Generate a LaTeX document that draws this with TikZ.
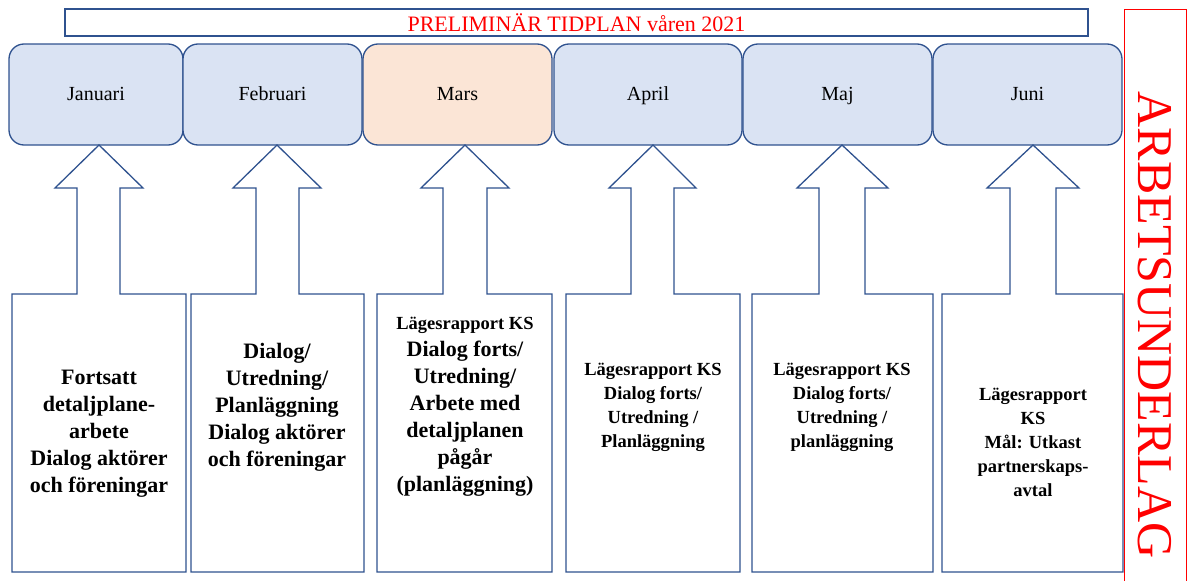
\documentclass[tikz,border=0pt]{standalone}
\usepackage{fontspec}
\setmainfont{Liberation Serif}
\definecolor{bord}{HTML}{2F528F}
\definecolor{mfill}{HTML}{DAE3F3}
\definecolor{pfill}{HTML}{FBE5D6}
\definecolor{myred}{HTML}{FF0000}
\tikzset{
  month/.style={draw=bord, line width=1.3pt, rounded corners=15pt, fill=mfill,
    minimum height=101pt, inner sep=0pt, font=\fontsize{20}{24}\selectfont,
    text height=14pt, text depth=2pt},
  callout/.style={draw=bord, line width=1.3pt, fill=white, line join=miter},
  bigtxt/.style={align=center, font=\bfseries\fontsize{22}{27}\selectfont},
  smalltxt/.style={align=center, font=\bfseries\fontsize{18.5}{24}\selectfont},
}
\newcommand\upcallout[7]{%
  \draw[callout] (#1,572) -- (#1,294) -- (#3,294) -- (#3,188) -- (#5,188) -- (#7,145)
    -- (#6,188) -- (#4,188) -- (#4,294) -- (#2,294) -- (#2,572) -- cycle;}
\begin{document}
\begin{tikzpicture}[x=1pt,y=-1pt]
\useasboundingbox (0,0) rectangle (1187,581);
% title
\node[draw=bord, line width=1.3pt, minimum width=1023pt, minimum height=27pt, inner sep=0pt,
  text=myred, font=\fontsize{22}{24}\selectfont] (title) at (576.5,22.5) {PRELIMINÄR TIDPLAN våren 2021};
% side box
\draw[myred, line width=0.8pt] (1124,9) rectangle (1186,590);
\node[rotate=-90, text=myred, font=\fontsize{50}{52}\selectfont, inner sep=0pt] (side) at (1155,325) {ARBETSUNDERLAG};
% months
\node[month, minimum width=174pt] (jan) at (96,94.5) {Januari};
\node[month, minimum width=179pt] (feb) at (272.5,94.5) {Februari};
\node[month, minimum width=189pt, fill=pfill] (mar) at (457.5,94.5) {Mars};
\node[month, minimum width=188pt] (apr) at (648,94.5) {April};
\node[month, minimum width=189pt] (maj) at (837.5,94.5) {Maj};
\node[month, minimum width=189pt] (jun) at (1027.5,94.5) {Juni};
% callouts
\upcallout{12}{186}{77}{120}{55}{143}{99}
\upcallout{191}{364}{256}{299}{233}{321}{277}
\upcallout{377}{552}{443}{487}{421}{509}{465}
\upcallout{566}{740}{631}{674}{609}{696}{653}
\upcallout{752}{933}{819}{865}{797}{888}{842}
\upcallout{942}{1123}{1010}{1056}{987}{1079}{1033}
% texts
\node[bigtxt] (tjan) at (99,434) {Fortsatt\\detaljplane-\\arbete\\Dialog aktörer\\och föreningar};
\node[bigtxt] (tfeb) at (277,407) {Dialog/\\Utredning/\\Planläggning\\Dialog aktörer\\och föreningar};
\node[bigtxt] (tmar) at (465,407) {{\fontsize{18.5}{24}\selectfont Lägesrapport KS}\\Dialog forts/\\Utredning/\\Arbete med\\detaljplanen\\pågår\\(planläggning)};
\node[smalltxt] (tapr) at (653,407) {Lägesrapport KS\\Dialog forts/\\Utredning /\\Planläggning};
\node[smalltxt] (tmaj) at (842,407) {Lägesrapport KS\\Dialog forts/\\Utredning /\\planläggning};
\node[smalltxt] (tjun) at (1033,442) {Lägesrapport\\KS\\Mål: Utkast\\partnerskaps-\\avtal};
\end{tikzpicture}
\end{document}
